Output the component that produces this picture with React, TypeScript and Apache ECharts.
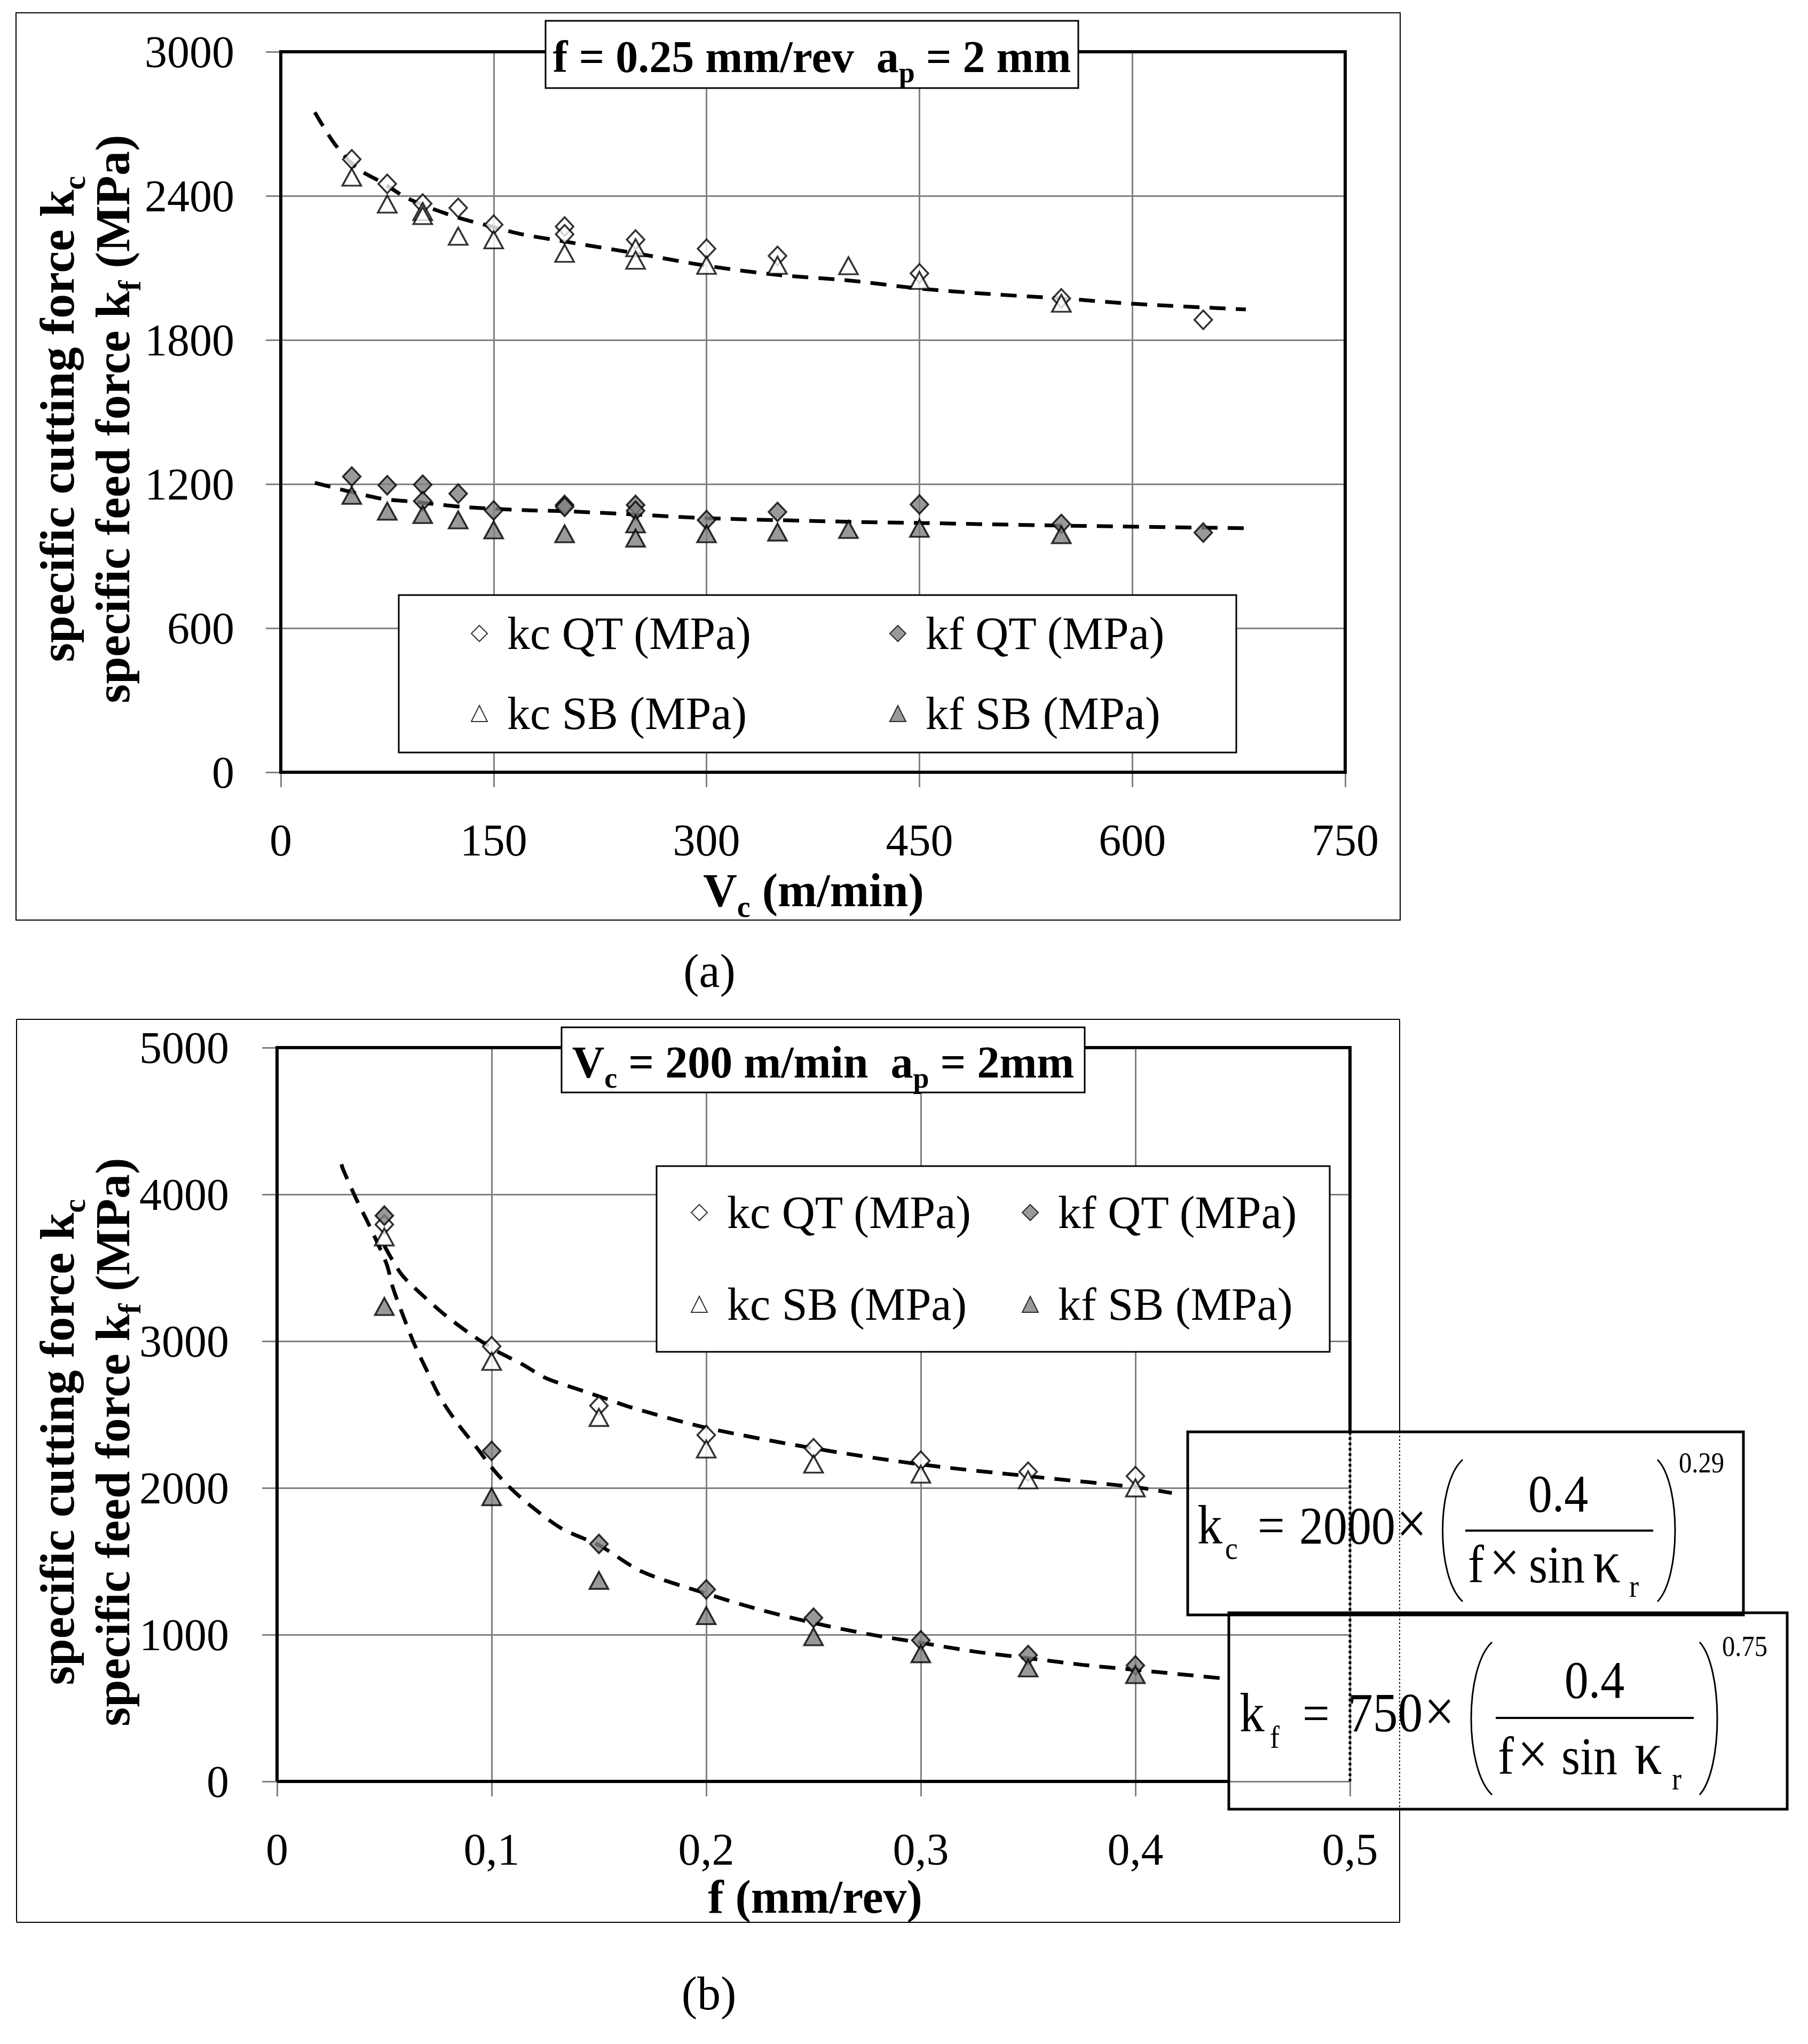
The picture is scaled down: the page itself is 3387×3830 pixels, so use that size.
import React, { useEffect, useRef } from "react";
import * as echarts from "echarts";

const FONT = "'Liberation Serif', 'Times New Roman', serif";
const W = 3387;
const H = 3830;

// ---------- chart (a): f = 0.25 mm/rev, ap = 2 mm ----------
const vcTicksA = { min: 0, max: 750, interval: 150 };
const kTicksA = { min: 0, max: 3000, interval: 600 };

const kcQT_a: number[][] = [
  [50, 2552], [75, 2450], [100, 2368], [125, 2350], [150, 2280], [200, 2272], [200, 2240],
  [250, 2218], [300, 2180], [350, 2150], [450, 2077], [550, 1973], [650, 1884],
];
const kcSB_a: number[][] = [
  [50, 2478], [75, 2366], [100, 2335], [100, 2318], [125, 2232], [150, 2217], [200, 2161],
  [250, 2184], [250, 2132], [300, 2111], [350, 2111], [400, 2109], [450, 2048], [550, 1953],
];
const kfQT_a: number[][] = [
  [50, 1231], [75, 1195], [100, 1197], [100, 1129], [125, 1160], [150, 1090], [200, 1113],
  [200, 1105], [250, 1113], [250, 1089], [300, 1050], [350, 1084], [450, 1115], [550, 1034], [650, 998],
];
const kfSB_a: number[][] = [
  [50, 1153], [75, 1087], [100, 1073], [125, 1051], [150, 1009], [200, 993], [250, 1034],
  [250, 975], [300, 993], [350, 1000], [400, 1011], [450, 1016], [550, 989],
];
const fitKc_a: number[][] = [
  [24, 2748], [38, 2616], [54, 2514], [71, 2457], [88, 2394], [107, 2346], [128, 2304],
  [147, 2275], [169, 2241], [200, 2210], [250, 2161], [300, 2109], [350, 2071], [400, 2048],
  [450, 2014], [500, 1991], [550, 1973], [600, 1951], [680, 1927],
];
const fitKf_a: number[][] = [
  [24, 1205], [70, 1140], [94, 1126], [130, 1104], [173, 1091], [200, 1087], [250, 1073],
  [300, 1058], [400, 1043], [450, 1038], [550, 1027], [680, 1016],
];

// ---------- chart (b): Vc = 200 m/min, ap = 2 mm ----------
const fTicksB = { min: 0, max: 0.5, interval: 0.1 };
const kTicksB = { min: 0, max: 5000, interval: 1000 };

const kcQT_b: number[][] = [
  [0.05, 3795], [0.1, 2965], [0.15, 2560], [0.2, 2360], [0.25, 2270], [0.3, 2185], [0.35, 2110], [0.4, 2080],
];
const kcSB_b: number[][] = [
  [0.05, 3710], [0.1, 2862], [0.15, 2480], [0.2, 2265], [0.25, 2162], [0.3, 2094], [0.35, 2055], [0.4, 2000],
];
const kfQT_b: number[][] = [
  [0.05, 3855], [0.1, 2252], [0.15, 1618], [0.2, 1308], [0.25, 1115], [0.3, 962], [0.35, 861], [0.4, 790],
];
const kfSB_b: number[][] = [
  [0.05, 3236], [0.1, 1940], [0.15, 1370], [0.2, 1130], [0.25, 986], [0.3, 870], [0.35, 773], [0.4, 728],
];
const fitKc_b: number[][] = [
  [0.05, 3650], [0.058, 3455], [0.068, 3310], [0.079, 3170], [0.09, 3050], [0.102, 2935],
  [0.114, 2845], [0.125, 2750], [0.139, 2678], [0.153, 2609], [0.166, 2544], [0.2, 2410],
  [0.25, 2270], [0.3, 2160], [0.35, 2080], [0.4, 2005], [0.417, 1965],
];
const fitKf_b: number[][] = [
  [0.03, 4205], [0.031, 4162], [0.037, 3966], [0.043, 3788], [0.051, 3527], [0.054, 3364],
  [0.059, 3164], [0.064, 2979], [0.07, 2794], [0.076, 2616], [0.084, 2442], [0.093, 2275],
  [0.101, 2122], [0.108, 2010], [0.118, 1880], [0.133, 1720], [0.15, 1610], [0.17, 1430],
  [0.2, 1280], [0.225, 1170], [0.25, 1080], [0.275, 1005], [0.3, 945], [0.325, 885],
  [0.35, 840], [0.375, 795], [0.4, 760], [0.44, 703],
];

const LEGEND_NAMES = ["kc QT (MPa)", "kf QT (MPa)", "kc SB (MPa)", "kf SB (MPa)"];

// ---------- helpers ----------
const GRAY = "#808080";

function xAxisCfg(gridIndex: number, t: any, formatter?: any) {
  return {
    type: "value", gridIndex, min: t.min, max: t.max, interval: t.interval,
    axisLine: { show: true, onZero: false, lineStyle: { color: GRAY, width: 3 } },
    axisTick: { show: true, length: 28, lineStyle: { color: GRAY, width: 3 } },
    axisLabel: { color: "#000", fontFamily: FONT, fontSize: 84, margin: 85, formatter },
    splitLine: { show: true, lineStyle: { color: GRAY, width: 3 } },
  };
}
function yAxisCfg(gridIndex: number, t: any, margin: number) {
  return {
    type: "value", gridIndex, min: t.min, max: t.max, interval: t.interval,
    axisLine: { show: true, onZero: false, lineStyle: { color: GRAY, width: 3 } },
    axisTick: { show: true, length: 28, lineStyle: { color: GRAY, width: 3 } },
    axisLabel: { color: "#000", fontFamily: FONT, fontSize: 84, margin, formatter: (v: number) => String(v) },
    splitLine: { show: true, lineStyle: { color: GRAY, width: 3 } },
  };
}

function scatter(name: string, data: number[][], idx: number, kind: string) {
  const isDiamond = kind.indexOf("QT") >= 0;
  const filled = kind.indexOf("kf") === 0;
  return {
    type: "scatter", name, data, xAxisIndex: idx, yAxisIndex: idx,
    symbol: isDiamond ? "diamond" : "triangle",
    symbolSize: isDiamond ? [33, 35] : [35, 32],
    itemStyle: { color: filled ? GRAY : "#fff", borderColor: "#000", borderWidth: 3.5 },
    z: 3, silent: true,
  };
}
function fit(name: string, data: number[][], idx: number) {
  return {
    type: "line", name, data, xAxisIndex: idx, yAxisIndex: idx,
    showSymbol: false, symbol: "none", smooth: 0.3,
    lineStyle: { color: "#000", width: 7, type: [30, 19] },
    z: 2, silent: true,
  };
}

function legendItem(name: string, left: number, top: number) {
  return {
    data: [name], left, top, orient: "horizontal", padding: 0,
    itemWidth: 30, itemHeight: 30, itemGap: 0, selectedMode: false, z: 20,
    itemStyle: { borderWidth: 2 },
    textStyle: { color: "#000", fontFamily: FONT, fontSize: 86, padding: [0, 0, 0, 32] },
  };
}

const line = (x1: number, y1: number, x2: number, y2: number, w: number, dash?: number[]) => ({
  type: "line", shape: { x1, y1, x2, y2 },
  style: { stroke: "#000", lineWidth: w, lineDash: dash || null }, z: 10, silent: true,
});
const rect = (x: number, y: number, w: number, h: number, lw: number, fill: string) => ({
  type: "rect", shape: { x, y, width: w, height: h },
  style: { fill, stroke: "#000", lineWidth: lw }, z: 10, silent: true,
});
const plain = (x: number, y: number, text: string, size: number, align = "left", sx = 1) => ({
  type: "text", x, y, scaleX: sx, z: 12, silent: true,
  style: {
    text, fill: "#000", fontFamily: FONT, fontSize: size, fontWeight: "normal",
    align, verticalAlign: "middle",
  },
});
// formula glyph: baseline-positioned, slightly condensed
const fg = (x: number, baseline: number, text: string, size: number, align = "left") =>
  plain(x, baseline - size * 0.3375, text, size, align, 0.9);

function richStyles(F: number, bold: boolean) {
  const fw = bold ? "bold" : "normal";
  return {
    m: { fontFamily: FONT, fontSize: F, fontWeight: fw, lineHeight: Math.round(F * 1.14), verticalAlign: "top", fill: "#000" },
    s: {
      fontFamily: FONT, fontSize: Math.round(F * 0.64), fontWeight: fw, lineHeight: Math.round(F * 0.68),
      padding: [Math.round(F * 0.53), 0, 0, 0], verticalAlign: "top", fill: "#000",
    },
  };
}
const richText = (x: number, y: number, text: string, F: number, bold: boolean, rotation = 0) => ({
  type: "text", x, y, rotation, z: 12, silent: true,
  style: { text, fill: "#000", align: "center", verticalAlign: "middle", rich: richStyles(F, bold) },
});
const paren = (x1: number, y1: number, cx: number, y2: number) => ({
  type: "bezierCurve",
  shape: { x1, y1, x2: x1, y2, cpx1: cx, cpy1: y1 + (y2 - y1) * 0.17, cpx2: cx, cpy2: y2 - (y2 - y1) * 0.17 },
  style: { stroke: "#000", lineWidth: 3, fill: "none" }, z: 12, silent: true,
});

const fmtComma = (v: number) => (v === 0 ? "0" : v.toFixed(1).replace(".", ","));

function buildOption() {
  const graphics: any[] = [
    // outer frame (a)
    rect(30, 24, 2593, 1700, 2, "none"),
    // outer frame (b)
    line(31, 1910, 2622, 1910, 2),
    line(31, 1910, 31, 3602, 2),
    line(31, 3602, 2622, 3602, 2),
    line(2622, 1910, 2622, 2683, 2),
    line(2622, 2683, 2622, 3390, 2, [3, 4]),
    line(2622, 3390, 2622, 3602, 2),
    // plot border (a)
    rect(526, 97, 1994, 1350, 6, "none"),
    // plot border (b)
    line(516, 1963, 2532, 1963, 6),
    line(519, 1963, 519, 3338, 6),
    line(519, 3338, 2302, 3338, 6),
    line(2529, 1963, 2529, 2683, 6),
    line(2529, 2683, 2529, 3338, 5, [5, 5]),
    // title boxes
    rect(1022, 39, 998, 126, 3, "#fff"),
    rect(1052, 1925, 980, 122, 3, "#fff"),
    // legend boxes
    rect(747, 1115, 1569, 295, 3, "#fff"),
    rect(1230, 2185, 1261, 348, 3, "#fff"),
    // formula boxes
    rect(2225, 2683, 1041, 343, 5, "none"),
    rect(2302, 3022, 1046, 368, 5, "none"),

    // titles
    richText(1521, 112, "{m|f = 0.25 mm/rev  a}{s|p}{m| = 2 mm}", 84, true),
    richText(1542, 1996, "{m|V}{s|c}{m| = 200 m/min  a}{s|p}{m| = 2mm}", 84, true),
    // x-axis titles
    richText(1524, 1674, "{m|V}{s|c}{m| (m/min)}", 88, true),
    richText(1527, 3560, "{m|f (mm/rev)}", 88, true),
    // y-axis titles
    richText(113, 785, "{m|specific cutting force k}{s|c}", 92, true, Math.PI / 2),
    richText(217, 785, "{m|specific feed force k}{s|f}{m| (MPa)}", 92, true, Math.PI / 2),
    richText(113, 2702, "{m|specific cutting force k}{s|c}", 92, true, Math.PI / 2),
    richText(217, 2702, "{m|specific feed force k}{s|f}{m| (MPa)}", 92, true, Math.PI / 2),
    // captions
    plain(1329, 1819, "(a)", 88, "center"),
    plain(1328, 3735, "(b)", 88, "center"),

    // formula 1
    fg(2243, 2892, "k", 104),
    fg(2295, 2921, "c", 60),
    fg(2356, 2892, "=", 100),
    fg(2434, 2892, "2000", 100),
    fg(2616, 2892, "×", 112),
    paren(2740, 2735, 2690, 3001),
    fg(2919, 2832, "0.4", 100, "center"),
    line(2745, 2868, 3097, 2868, 4),
    fg(2750, 2965, "f", 100),
    fg(2790, 2965, "×", 112),
    fg(2864, 2965, "sin", 100),
    fg(2984, 2965, "κ", 114),
    fg(3052, 2992, "r", 60),
    paren(3105, 2735, 3149, 3001),
    fg(3145, 2759, "0.29", 54),

    // formula 2
    fg(2322, 3244, "k", 104),
    fg(2379, 3275, "f", 60),
    fg(2440, 3244, "=", 100),
    fg(2525, 3244, "750", 104),
    fg(2668, 3244, "×", 112),
    paren(2795, 3077, 2743, 3363),
    fg(2987, 3181, "0.4", 100, "center"),
    line(2802, 3219, 3173, 3219, 4),
    fg(2806, 3324, "f", 100),
    fg(2843, 3324, "×", 112),
    fg(2925, 3324, "sin", 100),
    fg(3062, 3324, "κ", 114),
    fg(3132, 3353, "r", 60),
    paren(3184, 3077, 3228, 3363),
    fg(3226, 3103, "0.75", 54),
  ];

  return {
    animation: false,
    backgroundColor: "#fff",
    grid: [
      { left: 526, top: 97, width: 1994, height: 1350, show: false },
      { left: 519, top: 1963, width: 2010, height: 1375, show: false },
    ],
    xAxis: [xAxisCfg(0, vcTicksA), xAxisCfg(1, fTicksB, fmtComma)],
    yAxis: [yAxisCfg(0, kTicksA, 87), yAxisCfg(1, kTicksB, 90)],
    legend: [
      legendItem(LEGEND_NAMES[0], 882, 1144),
      legendItem(LEGEND_NAMES[1], 1666, 1144),
      legendItem(LEGEND_NAMES[2], 882, 1294),
      legendItem(LEGEND_NAMES[3], 1666, 1294),
      legendItem(LEGEND_NAMES[0], 1294, 2229),
      legendItem(LEGEND_NAMES[1], 1914, 2229),
      legendItem(LEGEND_NAMES[2], 1294, 2401),
      legendItem(LEGEND_NAMES[3], 1914, 2401),
    ],
    series: [
      fit("fit kc (a)", fitKc_a, 0),
      fit("fit kf (a)", fitKf_a, 0),
      scatter(LEGEND_NAMES[0], kcQT_a, 0, "kc QT"),
      scatter(LEGEND_NAMES[1], kfQT_a, 0, "kf QT"),
      scatter(LEGEND_NAMES[2], kcSB_a, 0, "kc SB"),
      scatter(LEGEND_NAMES[3], kfSB_a, 0, "kf SB"),
      fit("fit kc (b)", fitKc_b, 1),
      fit("fit kf (b)", fitKf_b, 1),
      scatter(LEGEND_NAMES[0], kcQT_b, 1, "kc QT"),
      scatter(LEGEND_NAMES[1], kfQT_b, 1, "kf QT"),
      scatter(LEGEND_NAMES[2], kcSB_b, 1, "kc SB"),
      scatter(LEGEND_NAMES[3], kfSB_b, 1, "kf SB"),
    ],
    graphic: { elements: graphics },
  };
}

export default function App() {
  const ref = useRef<HTMLDivElement>(null);
  useEffect(() => {
    document.body.style.margin = "0";
    document.body.style.overflow = "hidden";
    if (!ref.current) return;
    const chart = echarts.init(ref.current, undefined, { renderer: "svg" });
    chart.setOption(buildOption() as any);
    return () => chart.dispose();
  }, []);
  return <div ref={ref} style={{ width: W, height: H, background: "#fff" }} />;
}
